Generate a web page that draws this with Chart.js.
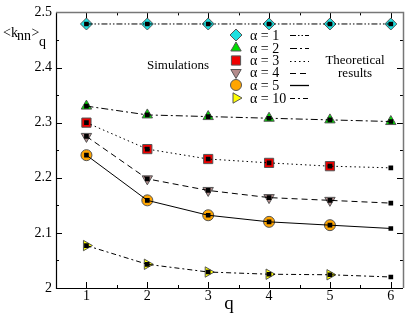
<!DOCTYPE html>
<html><head><meta charset="utf-8">
<script src="https://cdn.jsdelivr.net/npm/chart.js@4/dist/chart.umd.min.js"></script>
<style>html,body{margin:0;padding:0;background:#fff}canvas{display:block}</style>
</head><body>
<canvas id="c" width="415" height="321"></canvas>
<script>
// ---- data ----
const qValues = [1, 2, 3, 4, 5, 6];
const alphaLabels = ['α = 1', 'α = 2', 'α = 3', 'α = 4', 'α = 5', 'α = 10'];
const xTickLabels = ['1', '2', '3', '4', '5', '6'];
const yTickLabels = ['2', '2.1', '2.2', '2.3', '2.4', '2.5'];

// simulations (markers)
const sim1  = [2.479, 2.479, 2.479, 2.479, 2.479, 2.479];
const sim2  = [2.330, 2.314, 2.311, 2.308, 2.305, 2.302];
const sim3  = [2.300, 2.252, 2.234, 2.227, 2.221];
const sim4  = [2.275, 2.198, 2.177, 2.164, 2.159];
const sim5  = [2.241, 2.159, 2.132, 2.120, 2.114];
const sim10 = [2.077, 2.043, 2.029, 2.025, 2.024];

// theoretical results (lines + small squares)
const th1  = [2.479, 2.479, 2.479, 2.479, 2.479, 2.479];
const th2  = [2.330, 2.314, 2.311, 2.308, 2.305, 2.302];
const th3  = [2.300, 2.252, 2.234, 2.227, 2.221, 2.218];
const th4  = [2.275, 2.198, 2.177, 2.164, 2.159, 2.154];
const th5  = [2.241, 2.159, 2.132, 2.120, 2.114, 2.108];
const th10 = [2.077, 2.043, 2.029, 2.025, 2.024, 2.020];

const simSeries = [sim1, sim2, sim3, sim4, sim5, sim10];
const thSeries = [th1, th2, th3, th4, th5, th10];

// ---- styles ----
const markerStyles = [
  {pointStyle: 'rectRot', rotation: 0, radius: 6, color: '#1fe0e0'},
  {pointStyle: 'triangle', rotation: 0, radius: 6, color: '#00dd00'},
  {pointStyle: 'rect', rotation: 0, radius: 6.5, color: '#ee0000'},
  {pointStyle: 'triangle', rotation: 180, radius: 6, color: '#b48c8c'},
  {pointStyle: 'circle', rotation: 0, radius: 5.5, color: '#ffa500'},
  {pointStyle: 'triangle', rotation: 90, radius: 6, color: '#ffff00'}
];
const dashStyles = [
  [6, 2, 1.5, 2, 1.5, 2],
  [7, 3, 2, 3],
  [1.5, 3],
  [6, 4],
  [],
  [5, 3, 2, 3]
];
const SERIF = '"Liberation Serif", "DejaVu Serif", serif';

const toPts = arr => arr.map((v, i) => ({x: qValues[i], y: v}));

const datasets = [];
thSeries.forEach((arr, i) => {
  datasets.push({
    label: 'theory ' + alphaLabels[i],
    data: toPts(arr),
    showLine: true,
    borderColor: '#000',
    borderWidth: 1,
    borderDash: dashStyles[i],
    pointStyle: 'rect',
    pointRadius: 3.3,
    pointBackgroundColor: '#000',
    pointBorderColor: '#000',
    pointBorderWidth: 0,
    order: 0
  });
});
simSeries.forEach((arr, i) => {
  const m = markerStyles[i];
  datasets.push({
    label: 'sim ' + alphaLabels[i],
    data: toPts(arr),
    showLine: false,
    pointStyle: m.pointStyle,
    rotation: m.rotation,
    pointRotation: m.rotation,
    pointRadius: m.radius,
    pointBackgroundColor: m.color,
    pointBorderColor: '#555',
    pointBorderWidth: 1,
    order: 1
  });
});

const framePlugin = {
  id: 'frame',
  beforeDatasetsDraw(chart) {
    const {ctx, chartArea: a, scales: {x, y}} = chart;
    ctx.save();
    ctx.strokeStyle = '#000';
    ctx.lineWidth = 1;
    ctx.beginPath();
    for (let v = 0.5; v <= 6.2001; v += 0.5) {
      const px = Math.round(x.getPixelForValue(v)) + 0.5;
      const major = Math.abs(v - Math.round(v)) < 1e-6;
      const len = major ? 6 : 3;
      ctx.moveTo(px, a.bottom); ctx.lineTo(px, a.bottom - len);
      ctx.moveTo(px, a.top); ctx.lineTo(px, a.top + len);
    }
    for (let k = 0; k <= 10; k++) {
      const v = 2 + k * 0.05;
      const py = Math.round(y.getPixelForValue(v)) + 0.5;
      const len = (k % 2 === 0) ? 6 : 3;
      ctx.moveTo(a.left, py); ctx.lineTo(a.left + len, py);
      ctx.moveTo(a.right, py); ctx.lineTo(a.right - len, py);
    }
    ctx.stroke();
    ctx.lineWidth = 1.2;
    ctx.strokeStyle = '#000';
    ctx.beginPath();
    ctx.moveTo(Math.round(a.left) + 0.5, a.top);
    ctx.lineTo(Math.round(a.left) + 0.5, Math.round(a.bottom) + 0.5);
    ctx.lineTo(a.right, Math.round(a.bottom) + 0.5);
    ctx.stroke();
    ctx.strokeStyle = '#777';
    ctx.lineWidth = 1.5;
    ctx.beginPath();
    ctx.moveTo(a.left, Math.round(a.top) + 0.5);
    ctx.lineTo(Math.round(a.right) + 0.5, Math.round(a.top) + 0.5);
    ctx.lineTo(Math.round(a.right) + 0.5, a.bottom);
    ctx.stroke();
    ctx.restore();
  },
  afterDraw(chart) {
    const {ctx} = chart;
    ctx.save();
    ctx.fillStyle = '#000';
    ctx.textBaseline = 'alphabetic';
    ctx.textAlign = 'left';
    // y title <k_nn>_q
    ctx.font = '14px ' + SERIF;
    ctx.fillText('<k', 3, 37);
    ctx.fillText('nn', 17, 40);
    ctx.fillText('>', 31.5, 37);
    ctx.fillText('q', 39, 46);
    // x title
    ctx.font = '19px ' + SERIF;
    ctx.textAlign = 'center';
    ctx.fillText('q', 229, 309);
    // annotations
    ctx.font = '13px ' + SERIF;
    ctx.textBaseline = 'middle';
    ctx.fillText('Simulations', 178, 66);
    ctx.fillText('Theoretical', 355, 61);
    ctx.fillText('results', 355, 74);
    // legend
    const rowsY = [35, 48, 60.5, 72.5, 85, 98];
    alphaLabels.forEach((lab, i) => {
      const m = markerStyles[i];
      const yy = rowsY[i];
      ctx.fillStyle = m.color;
      ctx.strokeStyle = '#555';
      ctx.lineWidth = 1;
      Chart.helpers.drawPoint(ctx, {pointStyle: m.pointStyle, rotation: m.rotation, radius: m.radius, borderWidth: 1}, 236, yy);
      ctx.fillStyle = '#000';
      ctx.textAlign = 'left';
      ctx.font = '14px ' + SERIF;
      ctx.fillText(lab, 250, yy + 1);
      ctx.strokeStyle = '#000';
      ctx.lineWidth = (i === 4) ? 1.3 : 1;
      ctx.setLineDash(dashStyles[i]);
      ctx.beginPath();
      ctx.moveTo(290, Math.round(yy) + 0.5);
      ctx.lineTo(309, Math.round(yy) + 0.5);
      ctx.stroke();
      ctx.setLineDash([]);
    });
    ctx.restore();
  }
};

new Chart(document.getElementById('c'), {
  type: 'scatter',
  data: {datasets},
  options: {
    responsive: false,
    animation: false,
    events: [],
    layout: {padding: {top: 8, right: 12, left: 0, bottom: 0}},
    plugins: {legend: {display: false}, tooltip: {enabled: false}},
    scales: {
      x: {
        type: 'linear', min: 0.5, max: 6.2,
        grid: {display: false, drawTicks: false},
        border: {display: false},
        afterBuildTicks: s => { s.ticks = xTickLabels.map(t => ({value: Number(t)})); },
        afterFit: s => { s.height = 33; },
        ticks: {
          color: '#000', padding: 0, maxRotation: 0, autoSkip: false,
          font: {family: SERIF, size: 14},
          callback: (v) => xTickLabels[xTickLabels.indexOf(String(v))] ?? ''
        }
      },
      y: {
        type: 'linear', min: 2, max: 2.5,
        grid: {display: false, drawTicks: false},
        border: {display: false},
        afterBuildTicks: s => { s.ticks = yTickLabels.map(t => ({value: Number(t)})); },
        afterFit: s => { s.width = 56; },
        ticks: {
          color: '#000', padding: 4, autoSkip: false,
          font: {family: SERIF, size: 14},
          callback: (v) => { const i = yTickLabels.findIndex(t => Math.abs(Number(t) - v) < 1e-9); return i >= 0 ? yTickLabels[i] : ''; }
        }
      }
    }
  },
  plugins: [framePlugin]
});
</script>
</body></html>
